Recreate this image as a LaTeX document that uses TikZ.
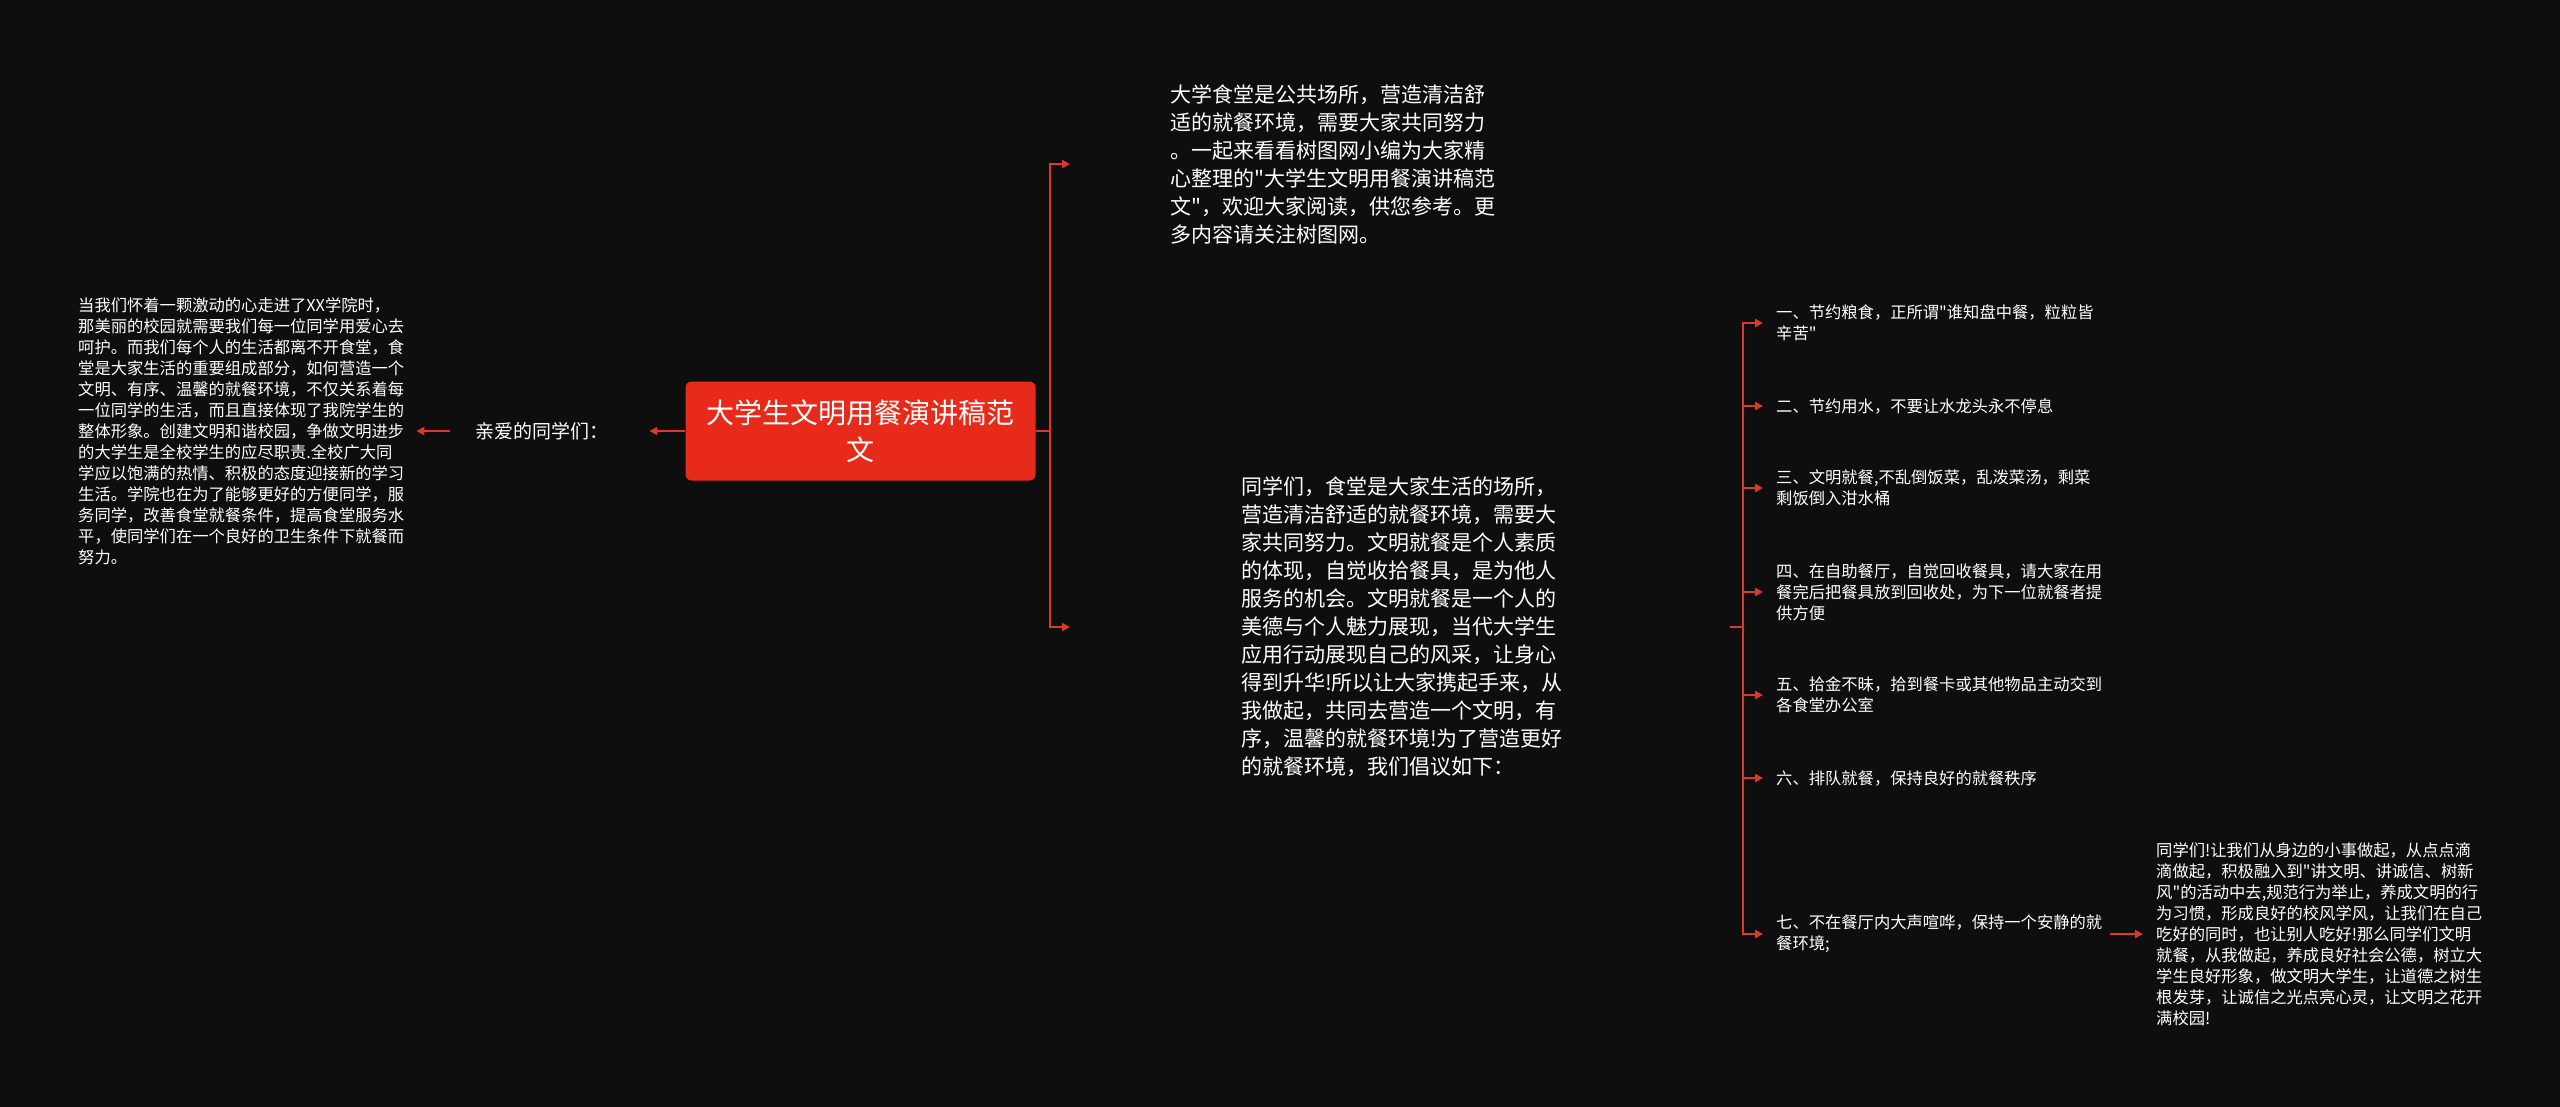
\documentclass[tikz,border=0pt]{standalone}
\usepackage{fontspec}
\newfontfamily\cjk{Noto Sans CJK SC}
\usepackage{tikz}
\usetikzlibrary{positioning,arrows.meta}
\usepackage{xcolor}
\definecolor{bgblack}{RGB}{14,14,14}
\definecolor{rootred}{RGB}{232,42,26}
\definecolor{linered}{RGB}{222,56,44}
\tikzset{
  topic/.style={rectangle, fill=rootred, rounded corners=6pt, minimum width=350pt, minimum height=99pt, align=center, text=white, font=\cjk\fontsize{28}{37}\selectfont},
  branch/.style={rectangle, inner sep=0pt, text=white, font=\cjk\fontsize{19}{24}\selectfont},
  bigtext/.style={rectangle, inner sep=0pt, text=white, align=left, text width=330pt, font=\cjk\fontsize{21}{28}\selectfont},
  smalltext/.style={rectangle, inner sep=0pt, text=white, align=left, text width=330pt, font=\cjk\fontsize{16.3}{21}\selectfont},
  ruletext/.style={smalltext, text width=334pt}
}
\begin{document}
\begin{tikzpicture}[
    x=1pt, y=-1pt,
    arrow/.style={-{Triangle[length=8pt, width=8pt]}, line width=2pt, draw=linered},
    link/.style={line width=2pt, draw=linered}
  ]
  \fill[bgblack] (0,0) rectangle (2560,1107);
  \useasboundingbox (0,0) rectangle (2560,1107);

  \node[topic] (root) at (860.5, 431) {大学生文明用餐演讲稿范\\文};
  \node[branch, anchor=west] (dear) at (475, 431) {亲爱的同学们：};
  \node[smalltext, anchor=west] (story) at (78, 431) {当我们怀着一颗激动的心走进了XX学院时，\\那美丽的校园就需要我们每一位同学用爱心去\\呵护。而我们每个人的生活都离不开食堂，食\\堂是大家生活的重要组成部分，如何营造一个\\文明、有序、温馨的就餐环境，不仅关系着每\\一位同学的生活，而且直接体现了我院学生的\\整体形象。创建文明和谐校园，争做文明进步\\的大学生是全校学生的应尽职责.全校广大同\\学应以饱满的热情、积极的态度迎接新的学习\\生活。学院也在为了能够更好的方便同学，服\\务同学，改善食堂就餐条件，提高食堂服务水\\平，使同学们在一个良好的卫生条件下就餐而\\努力。};

  \node[bigtext, anchor=west] (intro) at (1170, 164) {大学食堂是公共场所，营造清洁舒\\适的就餐环境，需要大家共同努力\\。一起来看看树图网小编为大家精\\心整理的"大学生文明用餐演讲稿范\\文"，欢迎大家阅读，供您参考。更\\多内容请关注树图网。};
  \node[bigtext, anchor=west] (appeal) at (1241, 627) {同学们，食堂是大家生活的场所，\\营造清洁舒适的就餐环境，需要大\\家共同努力。文明就餐是个人素质\\的体现，自觉收拾餐具，是为他人\\服务的机会。文明就餐是一个人的\\美德与个人魅力展现，当代大学生\\应用行动展现自己的风采，让身心\\得到升华!所以让大家携起手来，从\\我做起，共同去营造一个文明，有\\序，温馨的就餐环境!为了营造更好\\的就餐环境，我们倡议如下：};

  \node[ruletext, anchor=west] (rule1) at (1776, 323) {一、节约粮食，正所谓"谁知盘中餐，粒粒皆\\辛苦"};
  \node[ruletext, anchor=west] (rule2) at (1776, 406) {二、节约用水，不要让水龙头永不停息};
  \node[ruletext, anchor=west] (rule3) at (1776, 488) {三、文明就餐,不乱倒饭菜，乱泼菜汤，剩菜\\剩饭倒入泔水桶};
  \node[ruletext, anchor=west] (rule4) at (1776, 592) {四、在自助餐厅，自觉回收餐具，请大家在用\\餐完后把餐具放到回收处，为下一位就餐者提\\供方便};
  \node[ruletext, anchor=west] (rule5) at (1776, 695) {五、拾金不昧，拾到餐卡或其他物品主动交到\\各食堂办公室};
  \node[ruletext, anchor=west] (rule6) at (1776, 778) {六、排队就餐，保持良好的就餐秩序};
  \node[ruletext, anchor=west] (rule7) at (1776, 934) {七、不在餐厅内大声喧哗，保持一个安静的就\\餐环境;};
  \node[smalltext, anchor=west] (closing) at (2156, 934) {同学们!让我们从身边的小事做起，从点点滴\\滴做起，积极融入到"讲文明、讲诚信、树新\\风"的活动中去,规范行为举止，养成文明的行\\为习惯，形成良好的校风学风，让我们在自己\\吃好的同时，也让别人吃好!那么同学们文明\\就餐，从我做起，养成良好社会公德，树立大\\学生良好形象，做文明大学生，让道德之树生\\根发芽，让诚信之光点亮心灵，让文明之花开\\满校园!};

  \coordinate (forkR) at (1050, 431);
  \coordinate (forkM) at (1743, 627);

  \draw[arrow, shorten >=41pt] (root.west) -- (dear.east);
  \draw[arrow, shorten <=25pt, shorten >=8pt] (dear.west) -- (story.east);
  \draw[link] (root.east) -- (forkR);
  \draw[arrow, shorten >=100pt] (forkR) |- (intro.west);
  \draw[arrow, shorten >=171pt] (forkR) |- (appeal.west);
  \draw[link, shorten <=159pt] (appeal.east) -- (forkM);
  \draw[arrow, shorten >=13pt] (forkM) |- (rule1.west);
  \draw[arrow, shorten >=13pt] (forkM) |- (rule2.west);
  \draw[arrow, shorten >=13pt] (forkM) |- (rule3.west);
  \draw[arrow, shorten >=13pt] (forkM) |- (rule4.west);
  \draw[arrow, shorten >=13pt] (forkM) |- (rule5.west);
  \draw[arrow, shorten >=13pt] (forkM) |- (rule6.west);
  \draw[arrow, shorten >=13pt] (forkM) |- (rule7.west);
  \draw[arrow, shorten >=13pt] (rule7.east) -- (closing.west);

\end{tikzpicture}
\end{document}
